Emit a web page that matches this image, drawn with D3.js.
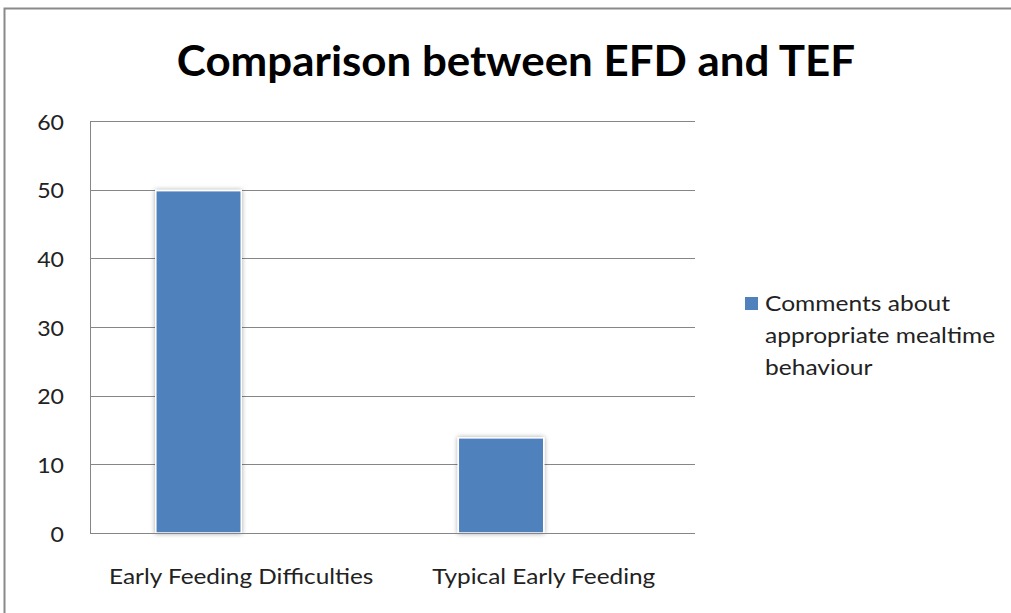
<!DOCTYPE html>
<html><head><meta charset="utf-8">
<script src="https://cdn.jsdelivr.net/npm/d3@7"></script>
<style>body{margin:0;background:#fff}svg{display:block}</style>
</head><body>
<svg id="c" width="1011" height="613"></svg>
<script>
const title = "Comparison between EFD and TEF";
const categories = ["Early Feeding Difficulties", "Typical Early Feeding"];
const seriesName = "Comments about appropriate mealtime behaviour";
const legendLines = ["Comments about", "appropriate mealtime", "behaviour"];
const values = [50, 14];
const yTicks = [0, 10, 20, 30, 40, 50, 60];
const slots = ["series1", "series2"]; // cluster room left by the source chart

const svg = d3.select("#c");
const W = 1011, H = 613;
const m = {left: 90, right: 1011 - 695, top: 121, bottom: 613 - 533};
const FONT = "Lato, 'Open Sans', sans-serif";

function stretched(sel, x, y, sx) {
  sel.attr("transform", (d, i) => `translate(${typeof x === "function" ? x(d, i) : x},${typeof y === "function" ? y(d, i) : y}) scale(${sx},1)`);
}

// outer chart border
svg.append("rect").attr("x", 4.5).attr("y", 8.5).attr("width", W + 10).attr("height", H + 10)
  .attr("fill", "none").attr("stroke", "#8a8a8a").attr("stroke-width", 2);

svg.append("text").attr("text-anchor", "middle")
  .attr("font-family", FONT).attr("font-weight", "bold")
  .attr("font-size", 42).attr("fill", "#000").text(title)
  .call(stretched, 516, 76, 1.045);

const x0 = d3.scaleBand().domain(categories).range([m.left, W - m.right]).paddingInner(0).paddingOuter(0);
const x1 = d3.scaleBand().domain(slots).range([0, x0.bandwidth()]).paddingOuter(0.77).paddingInner(0);
const y = d3.scaleLinear().domain([0, 60]).range([H - m.bottom, m.top]);

const g = svg.append("g");
// gridlines
g.selectAll("line.grid").data(yTicks.filter(d => d > 0)).join("line")
  .attr("x1", m.left).attr("x2", W - m.right)
  .attr("y1", d => Math.round(y(d)) + 0.5).attr("y2", d => Math.round(y(d)) + 0.5)
  .attr("stroke", "#868686").attr("stroke-width", 1);

// shadow
const defs = svg.append("defs");
const f = defs.append("filter").attr("id", "sh").attr("x", "-20%").attr("y", "-20%").attr("width", "140%").attr("height", "140%");
f.append("feGaussianBlur").attr("in", "SourceAlpha").attr("stdDeviation", 2.5).attr("result", "b");
f.append("feOffset").attr("in", "b").attr("dx", 0).attr("dy", 0).attr("result", "o");
f.append("feComponentTransfer").attr("in", "o").attr("result", "o2").append("feFuncA").attr("type", "linear").attr("slope", 0.35);
const fm = f.append("feMerge"); fm.append("feMergeNode").attr("in", "o2"); fm.append("feMergeNode").attr("in", "SourceGraphic");

g.selectAll("rect.bar").data(values).join("rect")
  .attr("x", (d, i) => x0(categories[i]) + x1("series1"))
  .attr("width", x1.bandwidth())
  .attr("y", d => y(d) + 1)
  .attr("height", d => y(0) - y(d) - 1)
  .attr("fill", "#4F81BD").attr("stroke", "#fff").attr("stroke-width", 1.5)
  .attr("filter", "url(#sh)");

// axes lines
g.append("line").attr("x1", m.left + 0.5).attr("x2", m.left + 0.5).attr("y1", m.top).attr("y2", y(0))
  .attr("stroke", "#868686");
g.append("line").attr("x1", m.left).attr("x2", W - m.right).attr("y1", Math.round(y(0)) + 0.5).attr("y2", Math.round(y(0)) + 0.5)
  .attr("stroke", "#868686");

// y tick labels
g.selectAll("text.yt").data(yTicks).join("text")
  .attr("text-anchor", "end")
  .attr("font-family", FONT).attr("font-size", 21).attr("fill", "#222")
  .text(d => d)
  .call(stretched, 64, d => y(d) + 8.5, 1.1);

// x labels
g.selectAll("text.xt").data(categories).join("text")
  .attr("text-anchor", "middle")
  .attr("font-family", FONT).attr("font-size", 21).attr("fill", "#222")
  .text(d => d)
  .call(stretched, d => x0(d) + x0.bandwidth() / 2, 584, 1.16);

// legend
const lg = svg.append("g").attr("transform", "translate(745,297)");
lg.append("rect").attr("width", 13).attr("height", 13).attr("fill", "#4F81BD");
lg.selectAll("text").data(legendLines).join("text")
  .attr("font-family", FONT).attr("font-size", 21).attr("fill", "#222")
  .text(d => d)
  .call(stretched, 20, (d, i) => 14 + i * 32, 1.17);
lg.append("title").text(seriesName);
</script>
</body></html>
